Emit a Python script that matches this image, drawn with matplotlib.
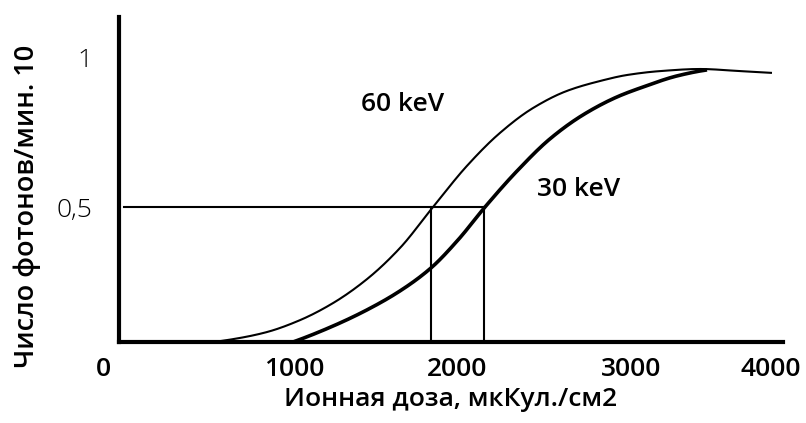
import numpy as np
import matplotlib
matplotlib.use("Agg")
import matplotlib.pyplot as plt

# ---- data -------------------------------------------------------------
dose_ticks = [0, 1000, 2000, 3000, 4000]
dose_tick_labels = ["0", "1000", "2000", "3000", "4000"]
rate_ticks = [0.5, 1.0]
rate_tick_labels = ["0,5", "1"]

# 60 keV (thin curve)
dose_60 = [576, 717, 859, 1037, 1239, 1448, 1650, 1853, 2057, 2247,
           2437, 2632, 2822, 2977, 3207, 3493, 3779, 4007]
rate_60 = [0.0, 0.015, 0.037, 0.081, 0.144, 0.233, 0.348, 0.5, 0.637, 0.747,
           0.83, 0.887, 0.92, 0.94, 0.953, 0.96, 0.953, 0.947]

# 30 keV (thick curve)
dose_30 = [995, 1239, 1448, 1650, 1840, 2006, 2161, 2345, 2534, 2724,
           2920, 3086, 3329, 3543]
rate_30 = [0.0, 0.059, 0.119, 0.189, 0.274, 0.378, 0.5, 0.62, 0.727, 0.807,
           0.867, 0.9, 0.937, 0.957]

half_rate = 0.5
half_dose_60 = 1840
half_dose_30 = 2155
half_line_start = 110

# ---- hand-drawn axes: piecewise-linear scales through the labelled ticks
x_knots = [-1000, 0, 1000, 2000, 3000, 4000, 5000]
x_pos = [-88, 103, 294, 457, 631, 771, 911]
y_knots = [0.0, 0.5, 1.0, 1.5]
y_pos = [0, 135, 285, 435]


def fwd_x(v):
    return np.interp(v, x_knots, x_pos)


def inv_x(p):
    return np.interp(p, x_pos, x_knots)


def fwd_y(v):
    return np.interp(v, y_knots, y_pos)


def inv_y(p):
    return np.interp(p, y_pos, y_knots)


def pchip(x, y, xn):
    x = np.asarray(x, float)
    y = np.asarray(y, float)
    h = np.diff(x)
    d = np.diff(y) / h
    m = np.zeros_like(y)
    for k in range(1, len(x) - 1):
        if d[k - 1] * d[k] > 0:
            w1 = 2 * h[k] + h[k - 1]
            w2 = h[k] + 2 * h[k - 1]
            m[k] = (w1 + w2) / (w1 / d[k - 1] + w2 / d[k])
    m0 = ((2 * h[0] + h[1]) * d[0] - h[0] * d[1]) / (h[0] + h[1])
    m[0] = m0 if m0 * d[0] > 0 else 0.0
    mn = ((2 * h[-1] + h[-2]) * d[-1] - h[-1] * d[-2]) / (h[-1] + h[-2])
    m[-1] = mn if mn * d[-1] > 0 else 0.0
    idx = np.clip(np.searchsorted(x, xn) - 1, 0, len(x) - 2)
    t = (xn - x[idx]) / h[idx]
    h00 = 2 * t**3 - 3 * t**2 + 1
    h10 = t**3 - 2 * t**2 + t
    h01 = -2 * t**3 + 3 * t**2
    h11 = t**3 - t**2
    return (h00 * y[idx] + h10 * h[idx] * m[idx]
            + h01 * y[idx + 1] + h11 * h[idx] * m[idx + 1])


def smooth(xd, yd, n=400):
    sx = fwd_x(np.asarray(xd, float))
    sy = fwd_y(np.asarray(yd, float))
    t = np.linspace(sx[0], sx[-1], n)
    return inv_x(t), inv_y(pchip(sx, sy, t))


plt.rcParams["font.family"] = ["Open Sans", "DejaVu Sans"]

W, H = 806, 423
fig = plt.figure(figsize=(W / 100, H / 100), dpi=100)
# the plotting area starts at dose 0; the vertical axis line sits a little
# to the right of it, as in the hand-drawn original
zero_px, spine_px, right_px, bottom_px, top_px = 103, 118.5, 783, 342, 17
ax = fig.add_axes([zero_px / W, 1 - bottom_px / H,
                   (right_px - zero_px) / W, (bottom_px - top_px) / H])
ax.set_xscale("function", functions=(fwd_x, inv_x))
ax.set_yscale("function", functions=(fwd_y, inv_y))

x_lo, x_hi = 0, inv_x(right_px)
x_axis = inv_x(spine_px)

# axes frame (set up first: moving a spine resets its ticks)
for side in ("top", "right"):
    ax.spines[side].set_visible(False)
ax.spines["left"].set_position(("data", x_axis))
for side in ("left", "bottom"):
    ax.spines[side].set_linewidth(3.0)
    ax.spines[side].set_capstyle("projecting")

# curves
x60, y60 = smooth(dose_60, rate_60)
ax.plot(x60, y60, color="black", lw=1.5, clip_on=False,
        solid_capstyle="butt")
x30, y30 = smooth(dose_30, rate_30)
ax.plot(x30, y30, color="black", lw=2.6, clip_on=False,
        solid_capstyle="butt")

# half-level construction lines
ax.plot([half_line_start, half_dose_30], [half_rate, half_rate],
        color="black", lw=1.5, clip_on=False)
ax.plot([half_dose_60, half_dose_60], [0, half_rate], color="black",
        lw=1.5, clip_on=False)
ax.plot([half_dose_30, half_dose_30], [0, half_rate], color="black",
        lw=1.5, clip_on=False)

# curve labels
ax.text(1665, 0.843, "60 keV", fontsize=19, fontweight="semibold",
        ha="center", va="center")
ax.text(2701, 0.56, "30 keV", fontsize=19, fontweight="semibold",
        ha="center", va="center")

ax.set_xticks(dose_ticks)
ax.set_xticklabels(dose_tick_labels, fontsize=19, fontweight="semibold")
ax.set_yticks(rate_ticks)
ax.set_yticklabels(rate_tick_labels, fontsize=19, fontweight="light")
ax.xaxis.set_minor_locator(matplotlib.ticker.NullLocator())
ax.yaxis.set_minor_locator(matplotlib.ticker.NullLocator())
ax.tick_params(axis="x", length=0, pad=11)
ax.tick_params(axis="y", length=0, pad=19)

# limits after the ticks, so the tick positions do not widen them
ax.set_xlim(x_lo, x_hi)
ax.set_ylim(0, inv_y(bottom_px - top_px))
ax.spines["bottom"].set_bounds(x_axis, x_hi)

ax.set_xlabel("Ионная доза, мкКул./см2", fontsize=19,
              fontweight="semibold", va="center", ha="center")
ax.xaxis.set_label_coords((451 - zero_px) / (right_px - zero_px),
                          (bottom_px - 400) / (bottom_px - top_px))
ax.set_ylabel("Число фотонов/мин. 10", fontsize=19.5,
              fontweight="semibold", va="center", ha="center")
ax.yaxis.set_label_coords((27 - zero_px) / (right_px - zero_px),
                          (bottom_px - 206) / (bottom_px - top_px))

fig.savefig("out.png", dpi=100, facecolor="white")
